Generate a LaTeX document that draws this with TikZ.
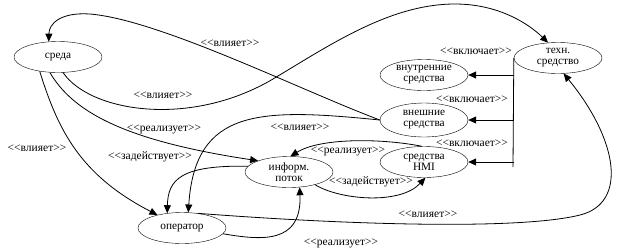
\documentclass[tikz,border=0pt]{standalone}
\usepackage{fontspec}
\newfontfamily\rfont{Liberation Serif}
\usetikzlibrary{shapes.geometric,arrows.meta}
\begin{document}
\begin{tikzpicture}[x=1pt,y=-1pt,
  ell/.style={draw,ellipse,minimum width=88pt,minimum height=31pt,inner sep=0pt,
    align=center,font=\rfont\fontsize{11.3}{11}\selectfont},
  lab/.style={font=\rfont\fontsize{11.5}{12}\selectfont,inner sep=0pt},
  conn/.style={line width=0.8pt,-{Triangle[length=8pt,width=7pt]}},
  ln/.style={line width=0.8pt}]
\useasboundingbox (0,0) rectangle (618,250);
\node[ell] (sreda) at (58,57) {среда};
\node[ell] (tech) at (558,58) {техн.\\средство};
\node[ell] (vnutr) at (424,75) {внутренние\\средства};
\node[ell,minimum height=34pt] (vnesh) at (424,120) {внешние\\средства};
\node[ell] (hmi) at (424,162) {средства\\HMI};
\node[ell] (info) at (289,172) {информ.\\поток};
\node[ell] (oper) at (182,228) {оператор};
% bracket
\coordinate (bb) at (513,167);
\draw[ln] (tech.west) -- (bb);
\draw[conn] (tech.west |- vnutr.east) -- (vnutr.east);
\draw[conn] (tech.west |- vnesh.east) -- (vnesh.east);
\draw[conn] (tech.west |- hmi.east) -- (hmi.east);
\node[lab] (k1) at (476,51) {<<включает>>};
\node[lab] (k2) at (472,99) {<<включает>>};
\node[lab] (k3) at (472,143) {<<включает>>};
% edges
\draw[conn] (vnesh.west) .. controls (300,90) and (160,20) .. (90,14)
  .. controls (60,12) and (49,24) .. (sreda.121);
\node[lab] (l1) at (230,43) {<<влияет>>};
\draw[conn] (sreda.-72) .. controls (90,112) and (190,128) .. (273,79)
  .. controls (330,45) and (390,4) .. (455,4)
  .. controls (500,4) and (530,25) .. (tech.123);
\node[lab] (l2) at (163,95) {<<влияет>>};
\draw[conn] (sreda.218) .. controls (58,130) and (80,175) .. (oper.152);
\node[lab] (l3) at (37,148) {<<влияет>>};
\draw[conn] (sreda.242) .. controls (72,110) and (120,140) .. (info.160);
\node[lab] (l4) at (164,129) {<<реализует>>};
\draw[conn] (info.172) .. controls (180,165) and (168,180) .. (oper.135);
\node[lab] (l5) at (150,157) {<<задействует>>};
\draw[conn] (vnesh.180) .. controls (260,108) and (195,108) .. (oper.68);
\node[lab] (l6) at (300,127) {<<влияет>>};
\draw[conn] (hmi.97) .. controls (380,138) and (320,138) .. (info.85);
\node[lab] (l7) at (348,151) {<<реализует>>};
\draw[conn] (info.-26) .. controls (340,200) and (400,205) .. (hmi.-85);
\node[lab] (l8) at (371,182) {<<задействует>>};
\draw[conn] (oper.-8) .. controls (260,240) and (302,245) .. (info.-55);
\node[lab] (l9) at (341,243) {<<реализует>>};
\draw[conn] (oper.43) .. controls (350,225) and (520,230) .. (580,215)
  .. controls (628,203) and (618,140) .. (tech.-70);
\node[lab] (l10) at (428,214) {<<влияет>>};
\end{tikzpicture}
\end{document}
